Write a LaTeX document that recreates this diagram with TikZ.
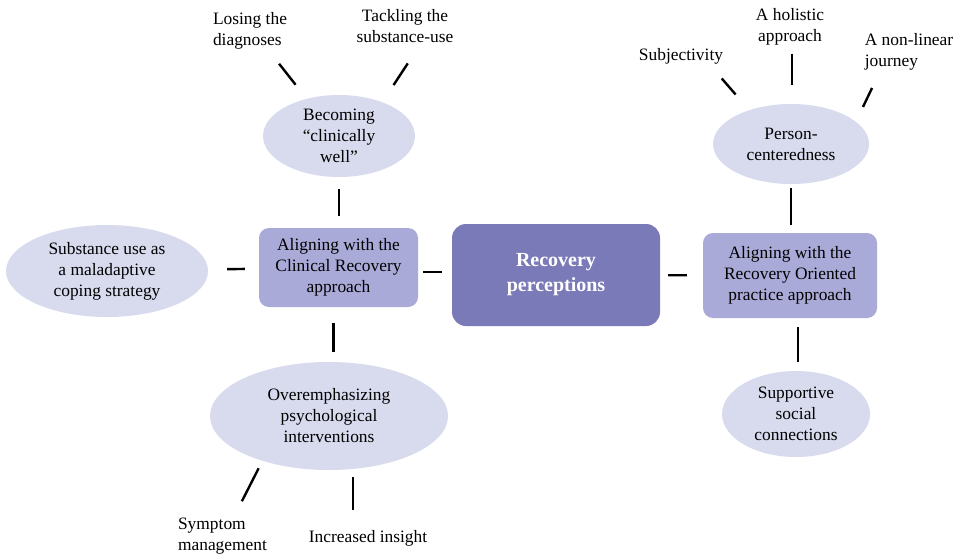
\documentclass[tikz,border=0pt]{standalone}
\usepackage{fontspec}
\setmainfont{Liberation Serif}
\usetikzlibrary{shapes.geometric}
\definecolor{ellfill}{RGB}{216,219,238}
\definecolor{boxfill}{RGB}{170,170,217}
\definecolor{mainfill}{RGB}{123,122,184}
\begin{document}
\begin{tikzpicture}[x=1pt,y=-1pt,
  every node/.style={inner sep=0pt, font=\fontsize{17.4}{21}\selectfont},
  oval/.style={ellipse, fill=ellfill, align=center},
  subbox/.style={rectangle, rounded corners=10pt, fill=boxfill, align=center},
  mainbox/.style={rectangle, rounded corners=14pt, fill=mainfill, align=center, text=white, font=\fontsize{20}{25}\selectfont\bfseries},
  link/.style={line width=2.4pt, draw=black}]
\fill[white] (0,0) rectangle (955,557);
\useasboundingbox (0,0) rectangle (955,557);

\node[mainbox, minimum width=208pt, minimum height=102pt] (cent) at (556,275) {Recovery\\perceptions};
\node[subbox, minimum width=159pt, minimum height=79pt] (clin) at (338.5,267.5) {Aligning with the\\Clinical Recovery\\approach};
\node[subbox, minimum width=174pt, minimum height=85pt] (ro) at (790,275.5) {Aligning with the\\Recovery Oriented\\practice approach};
\node[oval, minimum width=202pt, minimum height=92pt] (sub) at (107,271) {Substance use as\\a maladaptive\\coping strategy};
\node[oval, minimum width=152pt, minimum height=82pt] (becoming) at (339,136) {Becoming\\“clinically\\well”};
\node[oval, minimum width=238pt, minimum height=108pt] (over) at (329,416) {Overemphasizing\\psychological\\interventions};
\node[oval, minimum width=156pt, minimum height=80pt] (person) at (791,144) {Person-\\centeredness};
\node[oval, minimum width=148pt, minimum height=86pt] (supp) at (796,414) {Supportive\\social\\connections};

\node[align=left] (losing) at (250,31) {Losing the\\diagnoses};
\node[align=center] (tackle) at (405,26) {Tackling the\\substance-use};
\node (subj) at (681,56) {Subjectivity};
\node[align=center] (holistic) at (790,27) {A holistic\\approach};
\node[align=left] (nonlin) at (909,52) {A non-linear\\journey};
\node[align=left] (symptom) at (222.5,536) {Symptom\\management};
\node (insight) at (368,538) {Increased insight};

\draw[link, shorten <=19pt, shorten >=14pt] (sub) -- (clin);
\draw[link, shorten <=5pt, shorten >=10pt] ([yshift=3pt]cent.west -| clin.east) -- ([yshift=3pt]cent.west);
\draw[link, shorten <=8pt, shorten >=16pt] (cent) -- (ro);
\draw[link, shorten <=12pt, shorten >=12pt] (becoming.south) -- (becoming.south |- clin.north);
\draw[link, shorten <=16pt, shorten >=10pt] ([xshift=-5pt]clin.south) -- ([xshift=-5pt]clin.south |- over.north);
\draw[link, shorten <=4pt, shorten >=8pt] (person.south) -- (person.south |- ro.north);
\draw[link, shorten <=9pt, shorten >=9pt] ([xshift=2pt]supp.north) -- ([xshift=2pt]supp.north |- ro.south);

\draw[link, shorten <=18pt, shorten >=17.8pt] (losing.-46.5) -- (becoming.131.9);
\draw[link, shorten <=24.6pt, shorten >=20.4pt] (tackle.-46.8) -- (becoming.38.1);
\draw[link, shorten <=19pt, shorten >=20.6pt] (subj.-16.4) -- (person.141.6);
\draw[link, shorten <=8pt, shorten >=19pt] ([xshift=2pt]holistic.south) -- ([xshift=2pt]holistic.south |- person.north);
\draw[link, shorten <=19.2pt, shorten >=16.3pt] (nonlin.-147) -- (person.19.1);
\draw[link, shorten <=8.2pt, shorten >=18.4pt] (over.214.4) -- (symptom.59.4);
\draw[link, shorten <=7pt, shorten >=20pt] ([xshift=-15pt]insight.north |- over.south) -- ([xshift=-15pt]insight.north);
\end{tikzpicture}
\end{document}
